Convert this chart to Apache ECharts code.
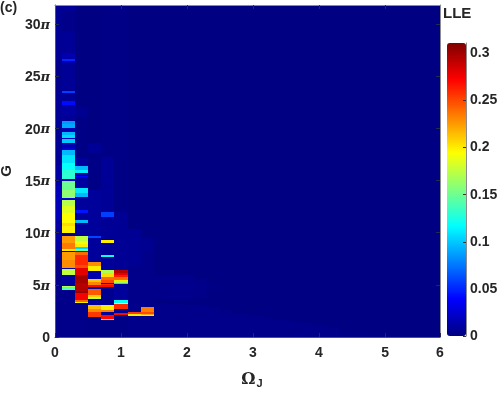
<!DOCTYPE html>
<html><head><meta charset="utf-8">
<style>html,body{margin:0;padding:0;background:#fff}#c{width:498px;height:393px}</style>
<script src="https://cdn.jsdelivr.net/npm/echarts@6/dist/echarts.min.js"></script>
</head><body><div id="c"></div>
<script>
// Each band: [lower edge of G in units of pi, LLE]; listed from the top of the column downwards.
const gMax = 31.8;
const omegaColumns = [0,0.2,0.4,0.6,0.8,1,1.2,1.4,1.6,1.8,2,2.2,2.4,2.6,2.8,3,3.2,3.4,3.6,3.8,4,4.2,4.4,4.6,4.8,5,5.2,5.4,5.6,5.8];
const col00 = [[26.5,.006],[23.6,.004],[20,.007],[16.5,.006],[14.5,.012],[11.2,.018],[8.3,.011],[0,.003]];
const col02 = [[31.1,.007],[29.2,.003],[27.2,.007],[26.6,.014],[26.4,.05],[26.2,.014],[23.6,.007],[23.4,.058],[22.6,.007],[22.2,.042],[21.3,.01],[20.7,.006],[20.4,.085],[20,.09],[19.65,.014],[19.35,.095],[19.05,.105],[18.95,.02],[18.6,.1],[18.1,.014],[17.9,.025],[17.45,.095],[16.7,.108],[16,.118],[15.15,.13],[14.95,.02],[14.1,.15],[13.35,.16],[13.15,.03],[12.55,.172],[11.9,.185],[10.95,.195],[10.65,.205],[10,.198],[9.7,.006],[9,.225],[8.45,.235],[8.25,.2],[8.15,.014],[7.4,.225],[6.65,.23],[6.55,.014],[5.95,.175],[4.9,.008],[4.75,.17],[4.5,.14],[0,.003]];
const col04 = [[22,.001],[21.1,.005],[17.15,.002],[16.4,.008],[16,.095],[15.75,.112],[15.45,.012],[15.3,.04],[14.3,.01],[13.8,.11],[13.45,.095],[12.2,.009],[11.9,.045],[11.2,.008],[10.95,.095],[9.65,.008],[9.15,.175],[8.93,.19],[8.62,.2],[8.45,.105],[8.26,.15],[8.16,.05],[7.9,.24],[7.4,.26],[6.92,.26],[6.63,.25],[5.96,.28],[5.2,.3],[4.36,.295],[4.24,.305],[3.57,.275],[3.38,.24],[3.25,.2],[0,.003]];
const col06 = [[18.6,.001],[17.6,.006],[14.1,.002],[9.65,.008],[9.45,.06],[7.2,.008],[6.8,.23],[6.3,.2],[5.6,.014],[5.3,.212],[5,.232],[4.8,.27],[4.6,.008],[4.05,.245],[3.85,.21],[3.65,.175],[3.1,.008],[2.7,.215],[2.42,.23],[1.9,.255],[0,.002]];
const col08 = [[17.2,.002],[16,.007],[12,.007],[11.45,.058],[9.25,.007],[9,.2],[7.88,.006],[7.65,.12],[6.44,.008],[6.15,.17],[5.76,.205],[5.42,.24],[5.2,.25],[5.1,.02],[5,.26],[4.8,.27],[3.1,.005],[2.61,.2],[2.35,.235],[2.07,.008],[1.75,.27],[1.59,.135],[0,.002]];
const col10 = [[12,.002],[6.44,.006],[6.15,.295],[5.91,.28],[5.77,.265],[5.48,.24],[5.39,.2],[5.22,.165],[5.1,.11],[3.5,.008],[3.3,.12],[3.18,.19],[2.68,.26],[2.3,.006],[2.13,.27],[0,.002]];
const col12 = [[10.3,.001],[6.9,.006],[2.4,.003],[2.2,.255],[2.05,.2],[0,.003]];
const col14 = [[9.5,.001],[8.15,.005],[2.87,.003],[2.42,.235],[2.23,.25],[2.13,.22],[2.04,.18],[0,.003]];
const col16 = [[5.8,.001],[3.6,.003],[3.3,.001],[0,.003]];
const col18 = [[5.8,.001],[3.6,.004],[3.2,.001],[0,.003]];
const col20 = [[5.9,.001],[3.6,.004],[3.1,.001],[0,.003]];
const col22 = [[5.6,.001],[3.7,.003],[3,.001],[0,.003]];
const col24 = [[5.1,.001],[4.6,.002],[2.8,.001],[0,.003]];
const col26 = [[2.5,.001],[0,.003]];
const col28 = [[2.2,.001],[0,.003]];
const col30 = [[2,.001],[0,.003]];
const col32 = [[1.8,.001],[0,.003]];
const col34 = [[1.6,.001],[0,.003]];
const col36 = [[1.45,.001],[0,.003]];
const col38 = [[1.3,.001],[0,.003]];
const col40 = [[1.1,.001],[0,.003]];
const col42 = [[.9,.001],[0,.003]];
const col44 = [[.8,.001],[0,.002]];
const col46 = [[.6,.001],[0,.002]];
const col48 = [[.5,.001],[0,.002]];
const col50 = [[.4,.001],[0,.002]];
const col52 = [[0,.001]];
const col54 = [[0,.001]];
const col56 = [[0,.001]];
const col58 = [[0,.001]];
const columns = [col00,col02,col04,col06,col08,col10,col12,col14,col16,col18,col20,col22,col24,col26,col28,col30,col32,col34,col36,col38,col40,col42,col44,col46,col48,col50,col52,col54,col56,col58];
const xTickValues = [0,1,2,3,4,5,5.833];
const xTickLabels = ['0','1','2','3','4','5','6'];
const gTicks = [0,5,10,15,20,25,30];
const lleTicks = [0,0.05,0.1,0.15,0.2,0.25,0.3];
const lleMax = 0.311;
const jet = ['#000080','#0000ff','#0080ff','#00ffff','#80ff80','#ffff00','#ff8000','#ff0000','#800000'];

const cells = [];
columns.forEach((bands,i)=>{
  let top = gMax;
  bands.forEach(([low,v])=>{
    cells.push([omegaColumns[i]-0.1, omegaColumns[i]+0.1, low, top, v]);
    top = low;
  });
});

const font = 'Liberation Sans';
const ink = '#262626';
const edge = '#8c8c8c';
const tickColor = '#222a55';
const labelBase = {color:ink,fontFamily:font,fontWeight:'bold',fontSize:14};
const chart = echarts.init(document.getElementById('c'),null,{renderer:'canvas'});
chart.setOption({
  animation:false,
  backgroundColor:'#fff',
  title:[
    {text:'(c)',left:0,top:1,padding:0,textStyle:{...labelBase,fontSize:14}},
    {text:'LLE',left:443,top:6,padding:0,textStyle:{...labelBase,fontSize:15}}
  ],
  grid:[
    {left:55,top:5,width:385,height:332,show:true,backgroundColor:'#000082',borderWidth:0,outerBoundsMode:'none',containLabel:false},
    {left:447,top:43,width:19,height:293,show:false,outerBoundsMode:'none',containLabel:false}
  ],
  xAxis:[
    {type:'value',gridIndex:0,min:0,max:5.833,z:5,position:'bottom',
     name:'{o|Ω}{j|J}',nameLocation:'middle',nameGap:33,
     nameTextStyle:{rich:{o:{fontFamily:'DejaVu Serif',fontWeight:'bold',fontSize:16,color:ink,padding:[0,0,0,9]},
                          j:{fontFamily:font,fontWeight:'bold',fontSize:11,color:ink,padding:[8,0,0,1]}}},
     splitLine:{show:false},axisLine:{show:true,onZero:false,lineStyle:{color:'#555',width:1}},
     axisTick:{inside:true,length:4,customValues:xTickValues,lineStyle:{color:tickColor}},
     axisLabel:{...labelBase,margin:9,customValues:xTickValues,formatter:v=>xTickLabels[xTickValues.indexOf(v)]}},
    {type:'value',gridIndex:0,min:0,max:5.833,z:5,position:'top',
     splitLine:{show:false},axisLine:{show:true,onZero:false,lineStyle:{color:edge,width:1}},
     axisTick:{inside:true,length:4,customValues:xTickValues.slice(1,6),lineStyle:{color:tickColor}},
     axisLabel:{show:false}},
    {type:'value',gridIndex:1,min:0,max:1,show:false}
  ],
  yAxis:[
    {type:'value',gridIndex:0,min:0,max:gMax,z:5,position:'left',
     name:'G',nameLocation:'middle',nameGap:31,nameRotate:90,
     nameTextStyle:{...labelBase,fontSize:15},
     splitLine:{show:false},axisLine:{show:true,onZero:false,lineStyle:{color:'#555',width:1}},
     axisTick:{inside:true,length:4,customValues:gTicks,lineStyle:{color:tickColor}},
     axisLabel:{...labelBase,margin:5,padding:[3,0,0,0],customValues:gTicks,
       formatter:v=>v===0?'0':`{n|${v}}{p|π}`,
       rich:{n:{...labelBase},p:{color:ink,fontFamily:'DejaVu Serif',fontStyle:'italic',fontWeight:'bold',fontSize:13}}}},
    {type:'value',gridIndex:0,min:0,max:gMax,z:5,position:'right',
     splitLine:{show:false},axisLine:{show:true,onZero:false,lineStyle:{color:edge,width:1}},
     axisTick:{inside:true,length:4,customValues:gTicks.slice(1),lineStyle:{color:tickColor}},
     axisLabel:{show:false}},
    {type:'value',gridIndex:1,min:0,max:lleMax,z:5,position:'right',
     splitLine:{show:false},axisLine:{show:true,onZero:false,lineStyle:{color:edge,width:1}},
     axisTick:{inside:true,length:3,customValues:lleTicks,lineStyle:{color:'#333'}},
     axisLabel:{...labelBase,margin:4,customValues:lleTicks,formatter:v=>String(v)}}
  ],
  visualMap:{type:'continuous',min:0,max:lleMax,dimension:4,seriesIndex:0,
    left:447,top:43,itemWidth:19,itemHeight:293,padding:0,calculable:false,
    text:['',''],showLabel:false,inRange:{color:jet},hoverLink:false},
  series:[{
    type:'custom',xAxisIndex:0,yAxisIndex:0,clip:true,
    encode:{x:[0,1],y:[2,3]},
    data:cells,
    renderItem:(params,api)=>{
      const a=api.coord([api.value(0),api.value(3)]);
      const b=api.coord([api.value(1),api.value(2)]);
      const x=Math.round(a[0]),y=Math.round(a[1]);
      return {type:'rect',shape:{x,y,width:Math.round(b[0])-x,height:Math.round(b[1])-y},
        style:{fill:api.visual('color')}};
    }
  }]
});
</script></body></html>
